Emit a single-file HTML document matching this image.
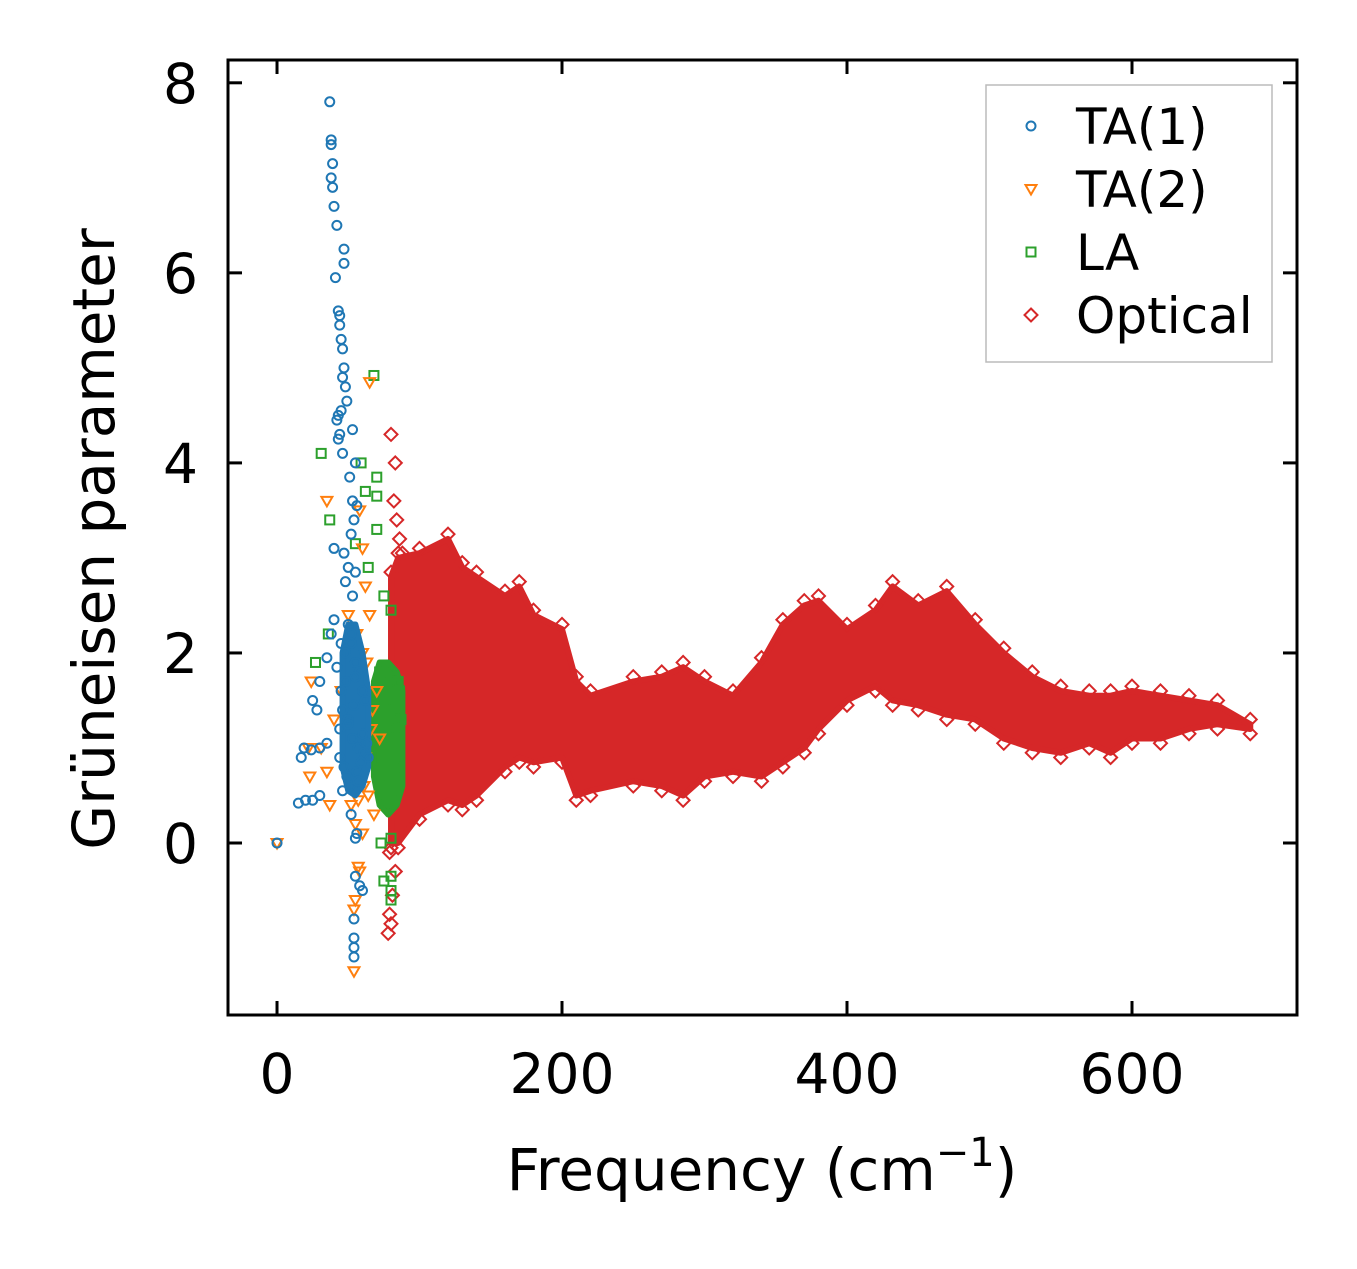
<!DOCTYPE html>
<html><head><meta charset="utf-8"><style>
html,body{margin:0;padding:0;background:#fff;}
svg text{font-family:"DejaVu Sans","Liberation Sans",sans-serif;fill:#000;}
</style></head><body>
<svg id="chart" width="1357" height="1264" xmlns="http://www.w3.org/2000/svg">
<g id="plot"></g>
</svg>
<script>
// ---- data ----
const xTicks=[0,200,400,600];
const yTicks=[0,2,4,6,8];
const ta1Freq=[37,38,38,39,38,39,40,42,47,47,41,43,44,44,45,46,47,46,48,49,45,43,42,44,43,46,53,55,51,53,56,54,52,40,47,50,55,48,53,40,38,45,35,30,25,28,19,24,30,35,17,30,25,20,15,0,52,56,55,58,55,54,54,54,54,60,50,52,55,58,60,62,48,46,44,50,53,57,61,64,47,49,51,56,59,63,45,48,52,54,57,42,44,46,50,55,60];
const ta1Val=[7.8,7.4,7.35,7.15,7.0,6.9,6.7,6.5,6.25,6.1,5.95,5.6,5.55,5.45,5.3,5.2,5.0,4.9,4.8,4.65,4.55,4.5,4.45,4.3,4.25,4.1,4.35,4.0,3.85,3.6,3.55,3.4,3.25,3.1,3.05,2.9,2.85,2.75,2.6,2.35,2.2,2.1,1.95,1.7,1.5,1.4,1.0,0.98,1.0,1.05,0.9,0.5,0.45,0.45,0.42,0,0.3,0.1,0.05,-0.45,-0.35,-0.8,-1.0,-1.1,-1.2,-0.5,2.3,2.1,1.9,1.8,1.6,1.5,1.7,1.4,1.2,1.3,1.1,1.0,0.95,0.9,0.8,0.7,0.6,0.75,0.85,1.05,1.6,2.0,2.2,1.45,0.65,1.85,0.9,0.55,1.25,1.75,1.15];
const ta2Freq=[0,65,35,58,60,24,22,23,35,37,52,55,58,57,55,54,54,62,65,60,70,66,62,58,64,68,60,31,40,45,50,56,63,67,72,61,57];
const ta2Val=[0,4.85,3.6,3.5,3.1,1.7,1.0,0.7,0.75,0.4,0.4,0.2,-0.3,-0.25,-0.6,-0.7,-1.35,2.7,2.4,2.0,1.6,1.2,0.9,0.8,0.5,0.3,0.1,1.0,1.3,1.6,2.4,2.2,1.9,1.4,1.1,0.6,0.45];
const laFreq=[68,31,59,62,70,70,37,70,55,64,36,27,75,80,80,85,73,75,80,80,80,80,72,76,78,82,84,86,74,79,83,87,77];
const laVal=[4.92,4.1,4.0,3.7,3.85,3.65,3.4,3.3,3.15,2.9,2.2,1.9,2.6,2.45,1.7,1.7,0,-0.4,-0.35,-0.5,-0.6,0.05,1.8,1.5,1.2,1.4,1.1,1.6,0.9,0.6,0.8,1.3,0.4];
// cluster envelopes (freq, upper, lower)
const taClusterFreq=[46,50,55,60,64];
const taClusterHi=[2.0,2.3,2.3,2.0,1.6];
const taClusterLo=[0.8,0.55,0.5,0.6,0.8];
const laClusterFreq=[68,72,78,84,88];
const laClusterHi=[1.7,1.9,1.9,1.8,1.6];
const laClusterLo=[0.7,0.4,0.3,0.4,0.6];
const optFreq=[80,85,100,120,130,140,160,170,180,200,210,220,250,270,285,300,320,340,355,370,380,400,420,432,450,470,490,510,530,550,570,585,600,620,640,660,683];
const optHi=[2.8,3.0,3.05,3.2,2.9,2.8,2.6,2.7,2.4,2.25,1.7,1.55,1.7,1.75,1.85,1.7,1.55,1.9,2.3,2.5,2.55,2.25,2.45,2.7,2.5,2.65,2.3,2.0,1.75,1.6,1.55,1.55,1.6,1.55,1.5,1.45,1.25];
const optLo=[0.0,0.0,0.3,0.45,0.4,0.5,0.8,0.9,0.85,0.9,0.5,0.55,0.65,0.6,0.5,0.7,0.75,0.7,0.85,1.0,1.2,1.5,1.65,1.5,1.45,1.35,1.3,1.1,1.0,0.95,1.05,0.95,1.1,1.1,1.2,1.25,1.2];
const optOutFreq=[80,83,82,84,86,88,78,80,79,81,83,79];
const optOutVal=[4.3,4.0,3.6,3.4,3.2,3.05,-0.95,-0.85,-0.75,-0.55,-0.3,-0.1];
// ---- axes ----
const X0=228,X1=1297,Y0=60,Y1=1015;
const xmin=-34.4,xmax=715.8,ymin=-1.81,ymax=8.24;
const sx=v=>X0+(v-xmin)/(xmax-xmin)*(X1-X0);
const sy=v=>Y1-(v-ymin)/(ymax-ymin)*(Y1-Y0);
const NS="http://www.w3.org/2000/svg";
const g=document.getElementById('plot');
function mk(tag,attrs,parent){const e=document.createElementNS(NS,tag);for(const k in attrs)e.setAttribute(k,attrs[k]);(parent||g).appendChild(e);return e;}
const C1='#1f77b4',C2='#ff7f0e',C3='#2ca02c',C4='#d62728';
function circle(x,y){const e=mk('circle',{cx:sx(x),cy:sy(y),r:4.5,fill:'none',stroke:C1,'stroke-width':2});

}
function tri(x,y){const cx=sx(x),cy=sy(y);const e=mk('path',{d:`M${cx-5.5},${cy-4}L${cx+5.5},${cy-4}L${cx},${cy+5.5}Z`,fill:'none',stroke:C2,'stroke-width':2});

}
function sq(x,y){const e=mk('rect',{x:sx(x)-4.5,y:sy(y)-4.5,width:9,height:9,fill:'none',stroke:C3,'stroke-width':2});

}
function dia(x,y){const cx=sx(x),cy=sy(y);const e=mk('path',{d:`M${cx},${cy-6.5}L${cx+6.5},${cy}L${cx},${cy+6.5}L${cx-6.5},${cy}Z`,fill:'none',stroke:C4,'stroke-width':2});

}
function band(fr,hi,lo,color,name){let d='M'+fr.map((f,i)=>sx(f)+','+sy(hi[i])).join('L');
for(let i=fr.length-1;i>=0;i--)d+='L'+sx(fr[i])+','+sy(lo[i]);
const e=mk('path',{d:d+'Z',fill:color,stroke:color,'stroke-width':6,'stroke-linejoin':'round'});

}
// optical
band(optFreq,optHi,optLo,C4,'optical-band');
optFreq.forEach((f,i)=>{dia(f,optHi[i]+0.05);dia(f,optLo[i]-0.05);});
optOutFreq.forEach((f,i)=>dia(f,optOutVal[i]));
// LA
band(laClusterFreq,laClusterHi,laClusterLo,C3,'la-cluster');
laFreq.forEach((f,i)=>sq(f,laVal[i]));
// TA2
ta2Freq.forEach((f,i)=>tri(f,ta2Val[i]));
// TA1
band(taClusterFreq,taClusterHi,taClusterLo,C1,'ta1-cluster');
ta1Freq.forEach((f,i)=>circle(f,ta1Val[i]));
// frame
const fr=mk('rect',{x:X0,y:Y0,width:X1-X0,height:Y1-Y0,fill:'none',stroke:'#000','stroke-width':3});


xTicks.forEach(t=>{const x=sx(t);
mk('line',{x1:x,x2:x,y1:Y1,y2:Y1-14,stroke:'#000','stroke-width':3});
mk('line',{x1:x,x2:x,y1:Y0,y2:Y0+14,stroke:'#000','stroke-width':3});
const e=mk('text',{x:x,y:1093,'text-anchor':'middle','font-size':55});e.textContent=t;

});
yTicks.forEach(t=>{const y=sy(t);
mk('line',{x1:X0,x2:X0+14,y1:y,y2:y,stroke:'#000','stroke-width':3});
mk('line',{x1:X1,x2:X1-14,y1:y,y2:y,stroke:'#000','stroke-width':3});
const e=mk('text',{x:198,y:y+20,'text-anchor':'end','font-size':55});e.textContent=t;

});
// axis titles
const xt=mk('text',{x:762,y:1190,'text-anchor':'middle','font-size':58});
xt.innerHTML='Frequency (cm<tspan dy="-24" font-size="40">−1</tspan><tspan dy="24">)</tspan>';


const yt=mk('text',{x:0,y:0,'text-anchor':'middle','font-size':58,transform:'translate(114,539) rotate(-90)'});
yt.textContent='Grüneisen parameter';


// legend
const lg=mk('g',{});


mk('rect',{x:986,y:85,width:286,height:277,fill:'#fff',stroke:'#bbb','stroke-width':1.5},lg);
const names=['TA(1)','TA(2)','LA','Optical'];
const fns=[(x,y)=>mk('circle',{cx:x,cy:y,r:4.5,fill:'none',stroke:C1,'stroke-width':2},lg),
(x,y)=>mk('path',{d:`M${x-5.5},${y-4}L${x+5.5},${y-4}L${x},${y+5.5}Z`,fill:'none',stroke:C2,'stroke-width':2},lg),
(x,y)=>mk('rect',{x:x-4.5,y:y-4.5,width:9,height:9,fill:'none',stroke:C3,'stroke-width':2},lg),
(x,y)=>mk('path',{d:`M${x},${y-6.5}L${x+6.5},${y}L${x},${y+6.5}L${x-6.5},${y}Z`,fill:'none',stroke:C4,'stroke-width':2},lg)];
names.forEach((n,i)=>{const y=126+i*63;fns[i](1031,y);
const e=mk('text',{x:1076,y:y+18,'font-size':50},lg);e.textContent=n;

});
</script>
</body></html>
